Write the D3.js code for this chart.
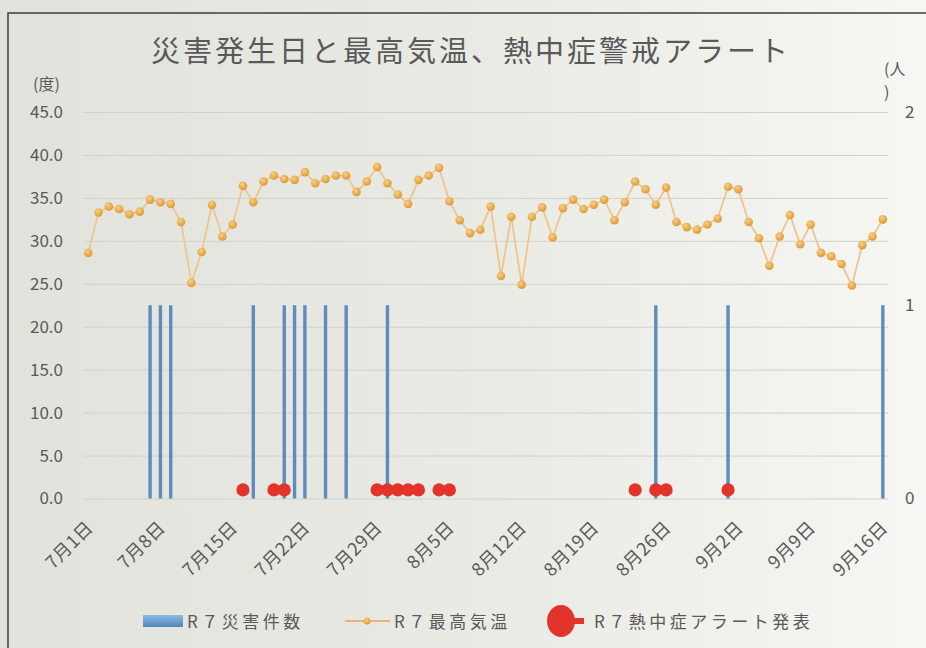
<!DOCTYPE html>
<html><head><meta charset="utf-8">
<script src="https://cdn.jsdelivr.net/npm/d3@7"></script>
<style>
html,body{margin:0;padding:0;background:#efefeb;}
svg{display:block;}
text{font-family:"Noto Sans CJK JP","Noto Sans",sans-serif;fill:#595959;}
</style></head>
<body>
<svg id="chart" width="926" height="648"></svg>
<script>
const dates = [
"7月1日","7月2日","7月3日","7月4日","7月5日","7月6日","7月7日",
"7月8日","7月9日","7月10日","7月11日","7月12日","7月13日","7月14日",
"7月15日","7月16日","7月17日","7月18日","7月19日","7月20日","7月21日",
"7月22日","7月23日","7月24日","7月25日","7月26日","7月27日","7月28日",
"7月29日","7月30日","7月31日","8月1日","8月2日","8月3日","8月4日",
"8月5日","8月6日","8月7日","8月8日","8月9日","8月10日","8月11日",
"8月12日","8月13日","8月14日","8月15日","8月16日","8月17日","8月18日",
"8月19日","8月20日","8月21日","8月22日","8月23日","8月24日","8月25日",
"8月26日","8月27日","8月28日","8月29日","8月30日","8月31日","9月1日",
"9月2日","9月3日","9月4日","9月5日","9月6日","9月7日","9月8日",
"9月9日","9月10日","9月11日","9月12日","9月13日","9月14日","9月15日",
"9月16日"];
const tickLabels = ["7月1日","7月8日","7月15日","7月22日","7月29日","8月5日","8月12日","8月19日","8月26日","9月2日","9月9日","9月16日"];
// R7 最高気温 (度)
const maxTemp = [
28.6,33.3,34.0,33.7,33.1,33.4,34.8,
34.5,34.3,32.2,25.1,28.7,34.2,30.5,
31.9,36.4,34.5,36.9,37.6,37.2,37.1,
38.0,36.7,37.2,37.6,37.6,35.7,36.9,
38.6,36.7,35.4,34.3,37.1,37.6,38.5,
34.6,32.4,30.9,31.3,34.0,25.9,32.8,
24.9,32.8,33.9,30.4,33.8,34.8,33.7,
34.2,34.8,32.4,34.5,36.9,36.0,34.2,
36.2,32.2,31.6,31.3,31.9,32.6,36.3,
36.0,32.2,30.3,27.1,30.5,33.0,29.6,
31.9,28.6,28.2,27.3,24.8,29.5,30.5,
32.5];
// R7 災害件数 (人)
const disasters = [
0,0,0,0,0,0,1,
1,1,0,0,0,0,0,
0,0,1,0,0,1,1,
1,0,1,0,1,0,0,
0,1,0,0,0,0,0,
0,0,0,0,0,0,0,
0,0,0,0,0,0,0,
0,0,0,0,0,0,1,
0,0,0,0,0,0,1,
0,0,0,0,0,0,0,
0,0,0,0,0,0,0,
1];
// R7 熱中症アラート発表 (1 = 発表, plotted at 1.0 on the left axis)
const alerts = [
0,0,0,0,0,0,0,
0,0,0,0,0,0,0,
0,1,0,0,1,1,0,
0,0,0,0,0,0,0,
1,1,1,1,1,0,1,
1,0,0,0,0,0,0,
0,0,0,0,0,0,0,
0,0,0,0,1,0,1,
1,0,0,0,0,0,1,
0,0,0,0,0,0,0,
0,0,0,0,0,0,0,
0];
const leftTicks = [0,5,10,15,20,25,30,35,40,45];
const rightTicks = [0,1,2];
const legendItems = ["R７災害件数","R７最高気温","R７熱中症アラート発表"];
const titleText = "災害発生日と最高気温、熱中症警戒アラート";

const svg = d3.select("#chart");
const defs = svg.append("defs");
const bg = defs.append("linearGradient").attr("id","bg").attr("x1","0").attr("x2","1").attr("y1","0").attr("y2","0");
bg.append("stop").attr("offset","0").attr("stop-color","#e2e2dd");
bg.append("stop").attr("offset","0.55").attr("stop-color","#ebebe6");
bg.append("stop").attr("offset","1").attr("stop-color","#f6f6f2");
const ball = defs.append("radialGradient").attr("id","ball").attr("cx","0.4").attr("cy","0.35").attr("r","0.7");
ball.append("stop").attr("offset","0").attr("stop-color","#f8cf86");
ball.append("stop").attr("offset","1").attr("stop-color","#db952c");
const blueG = defs.append("linearGradient").attr("id","blueG").attr("x1","0").attr("x2","0").attr("y1","0").attr("y2","1");
blueG.append("stop").attr("offset","0").attr("stop-color","#8dbbe2");
blueG.append("stop").attr("offset","1").attr("stop-color","#4f86bd");

svg.append("rect").attr("width",926).attr("height",648).attr("fill","url(#bg)");
svg.append("path").attr("d","M8,648V13H926").attr("fill","none").attr("stroke","#3c3c3c").attr("stroke-width",1.5);

const x = d3.scaleBand().domain(dates).range([83,888]);
const yL = d3.scaleLinear().domain([0,45]).range([498.5,112]);
const yR = d3.scaleLinear().domain([0,2]).range([498.5,112]);
const cx = d => x(d) + x.bandwidth()/2;

// gridlines
svg.append("g").attr("transform","translate(83,0)")
  .call(d3.axisLeft(yL).tickValues(leftTicks).tickSize(-805).tickFormat(""))
  .call(g=>g.select(".domain").remove())
  .call(g=>g.selectAll("line").attr("stroke","#d2d2cb").attr("stroke-width",1));

// title
svg.append("text").attr("x",471).attr("y",62).attr("text-anchor","middle")
  .attr("font-size",29).attr("letter-spacing",3).attr("fill","#595959").text(titleText);

// left axis
const gl = svg.append("g").attr("transform","translate(63,0)")
  .call(d3.axisLeft(yL).tickValues(leftTicks).tickSize(0).tickPadding(0).tickFormat(d=>d.toFixed(1)));
gl.select(".domain").remove();
gl.selectAll("text").attr("font-size",17).attr("fill","#595959").attr("font-family","Lato, sans-serif");
svg.append("text").attr("x",33).attr("y",90).attr("font-size",16).text("(度)");

// right axis
const gr = svg.append("g").attr("transform","translate(905,0)")
  .call(d3.axisRight(yR).tickValues(rightTicks).tickSize(0).tickPadding(0).tickFormat(d3.format("d")));
gr.select(".domain").remove();
gr.selectAll("text").attr("font-size",17).attr("fill","#595959").attr("font-family","Lato, sans-serif");
svg.append("text").attr("x",884).attr("y",75).attr("font-size",16).text("(人");
svg.append("text").attr("x",884).attr("y",98).attr("font-size",16).text(")");

// x axis
const gx = svg.append("g").attr("transform","translate(0,505)")
  .call(d3.axisBottom(x).tickValues(tickLabels).tickSize(0).tickPadding(0));
gx.select(".domain").remove();
gx.selectAll("text").attr("font-size",18).attr("letter-spacing",0.5).attr("fill","#595959")
  .attr("text-anchor","end").attr("x",0).attr("y",0).attr("dy",0).attr("transform","translate(6,24) rotate(-45)");

// bars (disasters)
svg.append("g").selectAll("line").data(dates.map((d,i)=>({d,v:disasters[i]})).filter(o=>o.v>0))
  .join("line").attr("x1",o=>cx(o.d)).attr("x2",o=>cx(o.d))
  .attr("y1",yR(0)).attr("y2",o=>yR(o.v)).attr("stroke","#5b8dbe").attr("stroke-width",3.4);

// temperature line
const line = d3.line().x((v,i)=>cx(dates[i])).y(v=>yL(v));
svg.append("path").datum(maxTemp).attr("d",line).attr("fill","none").attr("stroke","#eec58c").attr("stroke-width",1.8);
svg.append("g").selectAll("circle").data(maxTemp).join("circle")
  .attr("cx",(v,i)=>cx(dates[i])).attr("cy",v=>yL(v)).attr("r",4.3).attr("fill","url(#ball)");

// alerts
svg.append("g").selectAll("circle").data(dates.map((d,i)=>({d,v:alerts[i]})).filter(o=>o.v>0))
  .join("circle").attr("cx",o=>cx(o.d)).attr("cy",o=>yL(o.v)).attr("r",6.6).attr("fill","#e3342c");

// legend
const lg = svg.append("g");
lg.append("rect").attr("x",143).attr("y",615).attr("width",40).attr("height",12).attr("fill","url(#blueG)");
lg.append("text").attr("x",187).attr("y",628).attr("font-size",17).attr("letter-spacing",3.5).text(legendItems[0]);
lg.append("line").attr("x1",345).attr("x2",390).attr("y1",621).attr("y2",621).attr("stroke","#e8b670").attr("stroke-width",1.8);
lg.append("circle").attr("cx",367).attr("cy",621).attr("r",3.5).attr("fill","url(#ball)");
lg.append("text").attr("x",394).attr("y",628).attr("font-size",17).attr("letter-spacing",3.5).text(legendItems[1]);
lg.append("line").attr("x1",560).attr("x2",584).attr("y1",621).attr("y2",621).attr("stroke","#e3342c").attr("stroke-width",6);
lg.append("ellipse").attr("cx",561).attr("cy",621).attr("rx",14).attr("ry",16).attr("fill","#e3342c");
lg.append("text").attr("x",594).attr("y",628).attr("font-size",17).attr("letter-spacing",3.5).text(legendItems[2]);
</script>
</body></html>
